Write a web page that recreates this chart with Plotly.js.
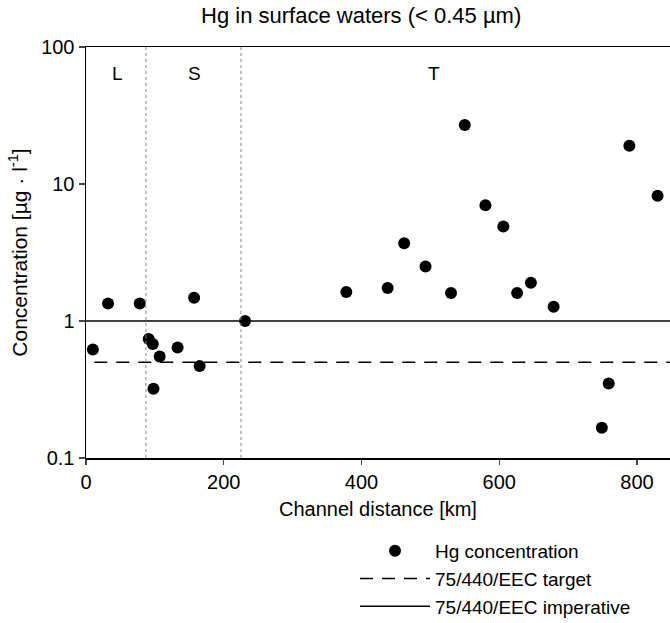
<!DOCTYPE html>
<html><head><meta charset="utf-8">
<script src="https://cdn.plot.ly/plotly-3.0.1.min.js"></script>
<style>html,body{margin:0;padding:0;background:#fff}</style>
</head><body><div id="chart" style="width:670px;height:623px"></div>
<script>
// Hg concentration data (channel distance km, concentration µg/l)
const distanceKm = [10, 32, 78, 91, 97, 98, 107, 133, 157, 165, 231, 378, 438, 462, 493, 530, 550, 580, 606, 626, 646, 679, 749, 759, 789, 830];
const hgConc    = [0.62, 1.34, 1.34, 0.74, 0.68, 0.32, 0.55, 0.64, 1.48, 0.47, 1.0, 1.63, 1.74, 3.7, 2.5, 1.6, 27, 7.0, 4.9, 1.6, 1.9, 1.27, 0.166, 0.35, 19, 8.2];
const targetValue = 0.5;
const imperativeValue = 1.0;
const lineExtent = [0, 848];
const targetExtent = [12, 848];
const sectionBounds = [87, 225];
const sectionLabels = ['L', 'S', 'T'];
const sectionLabelX = [46, 157, 505];
const yTicks = [0.1, 1, 10, 100];
const yTickText = ['0.1', '1', '10', '100'];
const xTicks = [0, 200, 400, 600, 800];

const font = "'Liberation Sans', Arial, Helvetica, sans-serif";

const traces = [
  {x: distanceKm, y: hgConc, mode: 'markers', type: 'scatter', name: 'Hg concentration',
   marker: {color: '#000', size: 12}},
  {x: targetExtent, y: [targetValue, targetValue], mode: 'lines', type: 'scatter', name: '75/440/EEC target',
   line: {color: '#000', width: 1.6, dash: '13px,9px'}},
  {x: lineExtent, y: [imperativeValue, imperativeValue], mode: 'lines', type: 'scatter', name: '75/440/EEC imperative',
   line: {color: '#000', width: 1.6}}
];

const shapes = sectionBounds.map(b => ({
  type: 'line', xref: 'x', yref: 'paper', x0: b, x1: b, y0: 0, y1: 1,
  line: {color: '#888', width: 1, dash: 'dot'}
}));

const annotations = sectionLabels.map((t, i) => ({
  text: t, x: sectionLabelX[i], xref: 'x', y: 0.965, yref: 'paper',
  showarrow: false, font: {family: font, size: 19, color: '#000'}
}));

const layout = {
  width: 670, height: 623,
  margin: {l: 86, r: 0, t: 47, b: 165, autoexpand: false},
  paper_bgcolor: '#fff', plot_bgcolor: '#fff',
  font: {family: font, size: 20, color: '#000'},
  title: {text: 'Hg in surface waters (< 0.45 µm)', xref: 'container', x: 0.539, xanchor: 'center',
          y: 0.975, yanchor: 'middle', font: {family: font, size: 22, color: '#000'}},
  xaxis: {range: [0, 848], tickvals: xTicks, ticks: 'outside', ticklen: 5, tickwidth: 1.3,
          showline: true, linecolor: '#000', linewidth: 1.5, mirror: true, showgrid: false, zeroline: false,
          tickfont: {size: 20},
          title: {text: 'Channel distance [km]', font: {size: 20}, standoff: 10}},
  yaxis: {type: 'log', range: [-1, 2], tickvals: yTicks, ticktext: yTickText, ticks: 'outside', ticklen: 6,
          tickwidth: 1.3, showline: true, linecolor: '#000', linewidth: 1.5, showgrid: false, zeroline: false,
          tickfont: {size: 20},
          title: {text: 'Concentration [µg · l<sup>-1</sup>]', font: {size: 21}, standoff: 8}},
  showlegend: true,
  legend: {x: 355 / 670, xref: 'container', xanchor: 'left', y: (623 - 532) / 623, yref: 'container', yanchor: 'top',
           bgcolor: 'rgba(0,0,0,0)', font: {size: 19}, itemwidth: 70, tracegroupgap: 0},
  shapes: shapes,
  annotations: annotations
};

Plotly.newPlot('chart', traces, layout, {displayModeBar: false, staticPlot: true});
</script>
</body></html>
